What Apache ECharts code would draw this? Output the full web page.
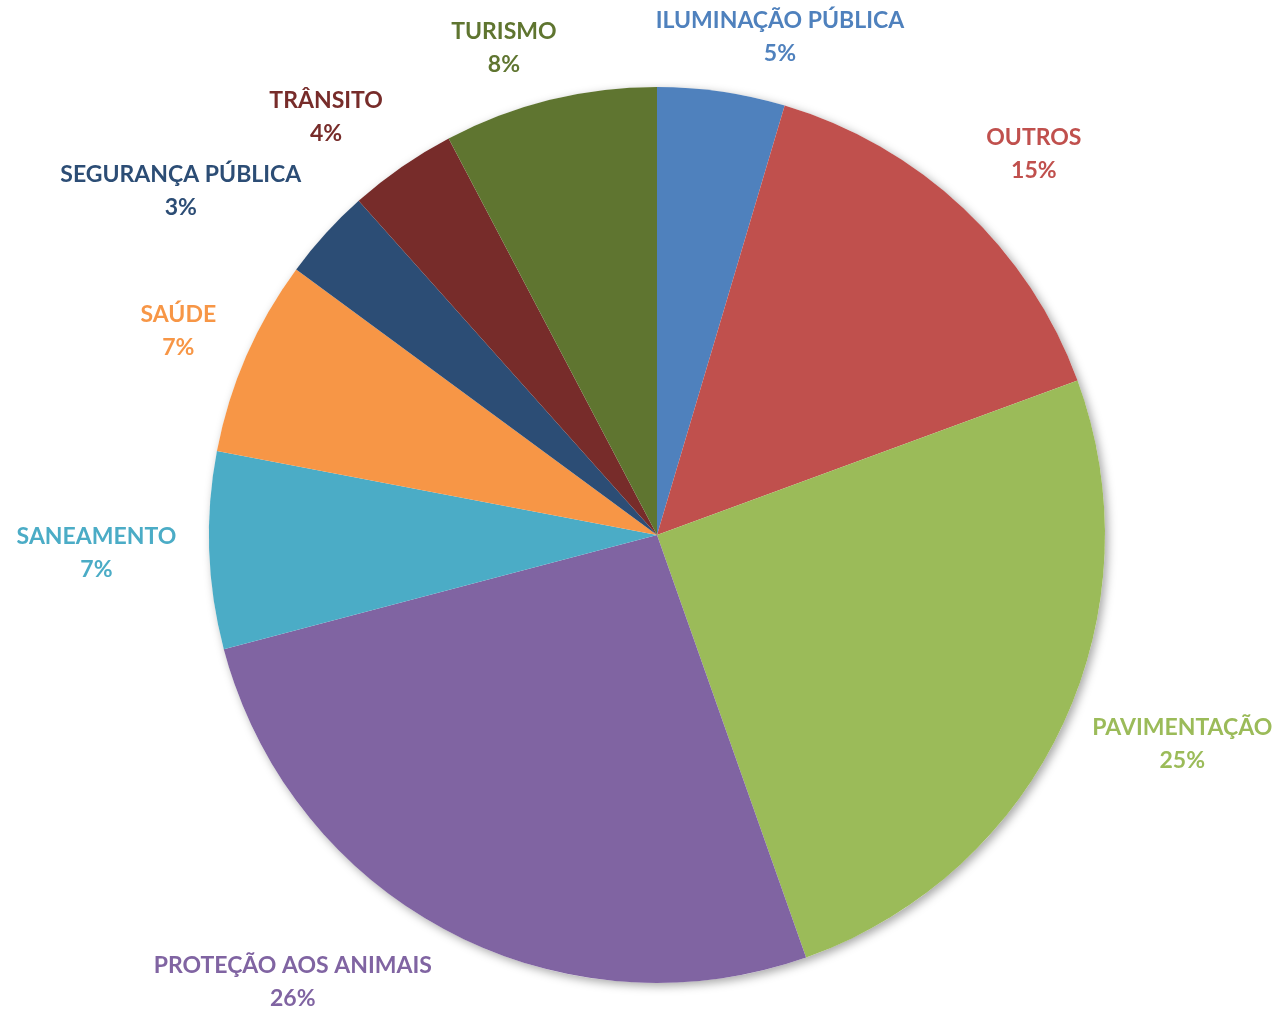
<!DOCTYPE html>
<html>
<head>
<meta charset="utf-8">
<script src="https://cdn.jsdelivr.net/npm/echarts@6/dist/echarts.min.js"></script>
<style>html,body{margin:0;padding:0;background:#fff}#chart{width:1281px;height:1011px}</style>
</head>
<body>
<div id="chart"></div>
<script>
const categories = ['ILUMINAÇÃO PÚBLICA', 'OUTROS', 'PAVIMENTAÇÃO', 'PROTEÇÃO AOS ANIMAIS', 'SANEAMENTO', 'SAÚDE', 'SEGURANÇA PÚBLICA', 'TRÂNSITO', 'TURISMO'];
const values = [4.6, 14.8, 25.2, 26.3, 7.1, 7.1, 3.3, 3.9, 7.7];
const colors = ['#4F81BD', '#C0504D', '#9BBB59', '#8064A2', '#4BACC6', '#F79646', '#2C4D75', '#772C2A', '#5F7530'];

const CX = 657, CY = 535, R = 448, GX = 33, GY = 20;
const total = values.reduce((a, b) => a + b, 0);
const clamp = v => Math.max(-1, Math.min(1, v));

const chart = echarts.init(document.getElementById('chart'), null, {renderer: 'canvas'});
chart.setOption({
  backgroundColor: '#ffffff',
  animation: false,
  series: [
    {
      type: 'pie',
      silent: true,
      center: [CX, CY],
      radius: R,
      z: 1,
      label: {show: false},
      labelLine: {show: false},
      itemStyle: {color: '#ffffff', shadowBlur: 10, shadowColor: 'rgba(0,0,0,0.35)', shadowOffsetX: 3, shadowOffsetY: 3},
      data: [{value: 1, name: 'bg'}]
    },
    {
      type: 'pie',
      center: [CX, CY],
      radius: R,
      z: 2,
      startAngle: 90,
      clockwise: true,
      avoidLabelOverlap: false,
      itemStyle: {borderWidth: 0},
      label: {
        show: true,
        position: 'outside',
        fontFamily: 'Lato',
        fontWeight: 'bold',
        fontSize: 23,
        lineHeight: 33,
        align: 'center',
        overflow: 'none',
        formatter: p => p.name + '\n' + Math.round(p.percent) + '%'
      },
      labelLine: {show: false},
      labelLayout: function (params) {
        const i = params.dataIndex;
        let start = 0;
        for (let k = 0; k < i; k++) start += values[k];
        const mid = (start + values[i] / 2) / total * Math.PI * 2;
        const s = Math.sin(mid), c = Math.cos(mid);
        const w = params.labelRect.width, h = params.labelRect.height;
        const dy = s > 0 ? -8 * Math.min(1, s * 1.5) : 0;
        const ax = CX + (R + GX) * s, ay = CY - (R + GY) * c + dy;
        const fx = clamp(s * 3.0), fy = clamp(-c * 1.3);
        return {x: ax + fx * w / 2, y: ay + fy * h / 2, align: 'center', verticalAlign: 'middle'};
      },
      data: categories.map((name, i) => ({
        name: name,
        value: values[i],
        itemStyle: {color: colors[i]},
        label: {color: colors[i]}
      }))
    }
  ]
});
</script>
</body>
</html>
